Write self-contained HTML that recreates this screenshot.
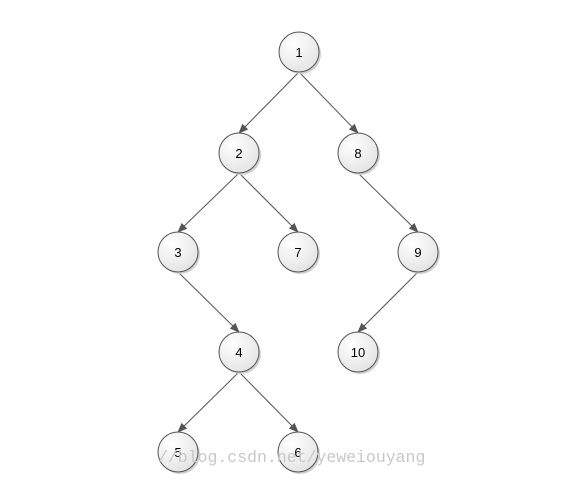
<!DOCTYPE html>
<html><head><meta charset="utf-8"><style>
html,body{margin:0;padding:0;background:#fff;width:587px;height:489px;overflow:hidden}
svg{display:block}
</style></head><body>
<svg id="tree" width="587" height="489" viewBox="0 0 587 489" xmlns="http://www.w3.org/2000/svg">
<defs>
<radialGradient id="g" cx="0.35" cy="0.3" r="0.8">
<stop offset="0" stop-color="#ffffff"/><stop offset="1" stop-color="#e2e2e2"/>
</radialGradient>
<marker id="arr" markerWidth="10" markerHeight="8" refX="9" refY="4" orient="auto" markerUnits="userSpaceOnUse">
<path d="M0,0 L10,4 L0,8 Z" fill="#555"/>
</marker>
</defs>
<g id="edges"></g>
<g id="nodes"></g>
<text x="158" y="462" font-family="Liberation Mono, monospace" font-size="16.5" fill="#c8c8c8">//blog.csdn.net/yeweiouyang</text>
</svg>
<script>
const labels = ["1","2","8","3","7","9","4","10","5","6"];
const nodeX = [299,239,358,178,298,418,239,358,178,298];
const nodeY = [52,153,153,252,252,252,352,352,452,452];
const edgeFrom = [0,0,1,1,2,5,3,6,6];
const edgeTo = [1,2,3,4,5,7,6,8,9];
const R = 20, NS = "http://www.w3.org/2000/svg";
const eg = document.getElementById('edges'), ng = document.getElementById('nodes');
for (let i = 0; i < edgeFrom.length; i++) {
  const a = edgeFrom[i], b = edgeTo[i];
  const l = document.createElementNS(NS, 'line');
  
  
  l.setAttribute('x1', nodeX[a]); l.setAttribute('y1', nodeY[a] + R);
  l.setAttribute('x2', nodeX[b]); l.setAttribute('y2', nodeY[b] - R);
  l.setAttribute('stroke', '#555'); l.setAttribute('stroke-width', '1');
  l.setAttribute('marker-end', 'url(#arr)');
  eg.appendChild(l);
}
for (let i = 0; i < labels.length; i++) {
  const g = document.createElementNS(NS, 'g');
  
  
  const s = document.createElementNS(NS, 'circle');
  s.setAttribute('cx', nodeX[i] + 2); s.setAttribute('cy', nodeY[i] + 2); s.setAttribute('r', R);
  s.setAttribute('fill', '#d0d0d0');
  g.appendChild(s);
  const c = document.createElementNS(NS, 'circle');
  c.setAttribute('cx', nodeX[i]); c.setAttribute('cy', nodeY[i]); c.setAttribute('r', R);
  c.setAttribute('fill', 'url(#g)'); c.setAttribute('stroke', '#555'); c.setAttribute('stroke-width', '1');
  g.appendChild(c);
  const t = document.createElementNS(NS, 'text');
  t.setAttribute('x', nodeX[i]); t.setAttribute('y', nodeY[i] + 5);
  t.setAttribute('text-anchor', 'middle');
  t.setAttribute('font-family', 'Liberation Sans, sans-serif');
  t.setAttribute('font-size', '13'); t.setAttribute('fill', '#000');
  t.textContent = labels[i];
  g.appendChild(t);
  ng.appendChild(g);
}
</script>
</body></html>
